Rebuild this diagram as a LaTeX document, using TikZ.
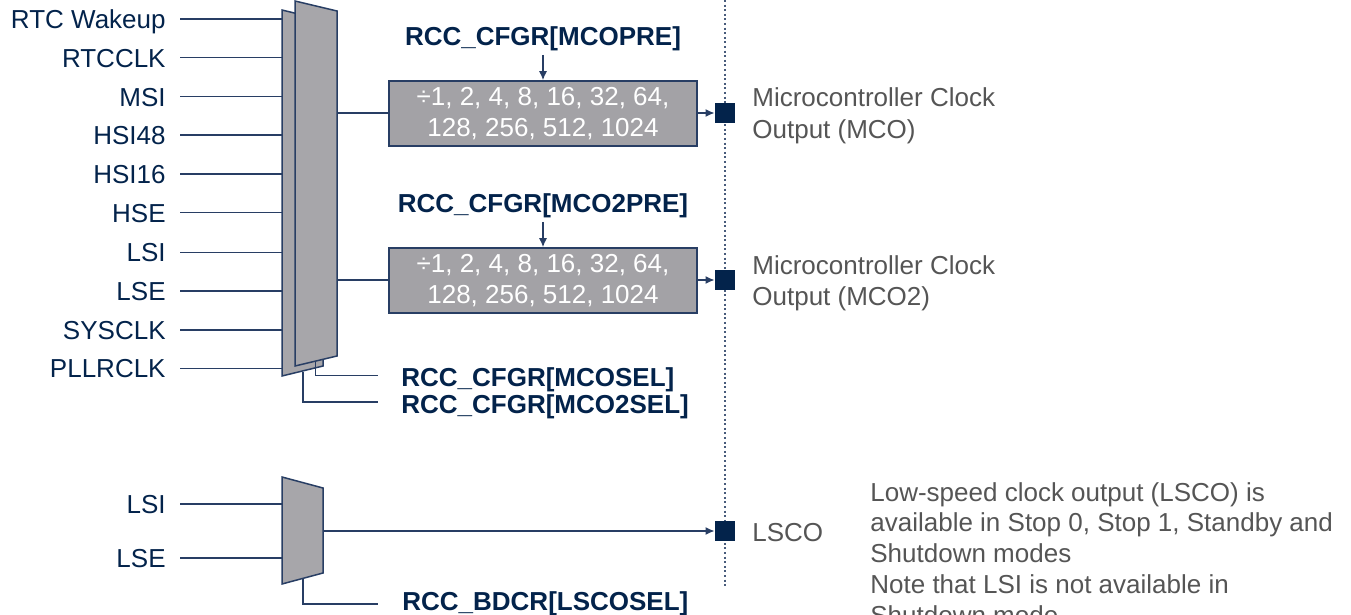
\documentclass[tikz,border=0pt]{standalone}
\usepackage{fontspec}
\setmainfont{Liberation Sans}
\usetikzlibrary{arrows.meta}
\definecolor{stnavy}{RGB}{3,35,75}
\definecolor{linec}{RGB}{40,62,100}
\definecolor{muxgray}{RGB}{167,166,170}
\definecolor{boxgray}{RGB}{163,162,166}
\definecolor{txtgray}{RGB}{85,85,85}
\tikzset{
  wire/.style={draw=linec, line width=0.75pt},
  arr/.style={wire, -{Latex[length=4.5pt,width=4pt]}},
  muxshape/.style={fill=muxgray, draw=linec, line width=0.75pt, line join=miter},
  inlabel/.style={anchor=base east, inner sep=0pt, text=stnavy, font=\fontsize{13pt}{15.5pt}\selectfont},
  reglabel/.style={inner sep=0pt, text=stnavy, font=\fontsize{13pt}{15.5pt}\selectfont\bfseries},
  outtext/.style={anchor=base west, inner sep=0pt, text=txtgray, font=\fontsize{13pt}{16pt}\selectfont},
  divbox/.style={fill=boxgray, draw=linec, line width=0.75pt, minimum width=154pt, minimum height=32.5pt, inner sep=0pt, text=white, align=center, font=\fontsize{13pt}{15.5pt}\selectfont},
  pin/.style={fill=stnavy, minimum size=10pt, inner sep=0pt},
}
\begin{document}
\begin{tikzpicture}[x=0.5pt,y=-0.5pt]
\useasboundingbox (0,0) rectangle (1351,615);
% dotted divider
\coordinate (dtop) at (725,0);
\coordinate (dbot) at (725,588);
\draw[linec!85, line width=0.6pt, dash pattern=on 1pt off 1.3pt] (dtop) -- (dbot);

% back mux
\draw[muxshape] (282,10) -- (323,20) -- (323,366) -- (282,376) -- cycle;
% front mux
\draw[muxshape] (295,1) -- (337,11) -- (337,356) -- (295,366) -- cycle;
\coordinate (mxout1) at (337,113);
\coordinate (mxout2) at (337,280);

% inputs
\foreach \name/\y [count=\i] in {RTC Wakeup/19, RTCCLK/57.7, MSI/96.7, HSI48/135, HSI16/174, HSE/212.7, LSI/252.3, LSE/291, SYSCLK/330, PLLRCLK/368.3}{
  \node[inlabel] (in\i) at (166,\y+9.5) {\name};
  \coordinate (ins\i) at (180,\y);
  \coordinate (ine\i) at (282,\y);
  \draw[wire] (ins\i) -- (ine\i);
}

% divider boxes
\node[divbox] (div1) at (543,113.5) {÷1, 2, 4, 8, 16, 32, 64,\\128, 256, 512, 1024};
\node[divbox] (div2) at (543,280.5) {÷1, 2, 4, 8, 16, 32, 64,\\128, 256, 512, 1024};
\draw[wire] (mxout1) -- (div1.west |- mxout1);
\draw[wire] (mxout2) -- (div2.west |- mxout2);

% register labels on top
\node[reglabel, anchor=base] (pre1) at (543,46) {RCC\_CFGR[MCOPRE]};
\node[reglabel, anchor=base] (pre2) at (543,213) {RCC\_CFGR[MCO2PRE]};
\coordinate (pre1a) at (543,55);
\coordinate (pre2a) at (543,222);
\draw[arr] (pre1a) -- (div1.north);
\draw[arr] (pre2a) -- (div2.north);

% output pins
\node[pin] (mco1) at (725,113) {};
\node[pin] (mco2) at (725,280) {};
\draw[arr] (div1.east |- mco1) -- (mco1.west);
\draw[arr] (div2.east |- mco2) -- (mco2.west);
\node[outtext] (t1a) at (752,107) {Microcontroller Clock};
\node[outtext] (t1b) at (752,139) {Output (MCO)};
\node[outtext] (t2a) at (752,274) {Microcontroller Clock};
\node[outtext] (t2b) at (752,306) {Output (MCO2)};

% select lines
\coordinate (s1a) at (315.5,361);
\coordinate (s1b) at (378,375.5);
\draw[wire] (s1a) |- (s1b);
\node[reglabel, anchor=base west] (sel1) at (401,386) {RCC\_CFGR[MCOSEL]};
\coordinate (s2a) at (303,372);
\coordinate (s2b) at (378,402);
\draw[wire] (s2a) |- (s2b);
\node[reglabel, anchor=base west] (sel2) at (401,413) {RCC\_CFGR[MCO2SEL]};

% LSCO mux
\draw[muxshape] (282,477) -- (323,488) -- (323,573) -- (282,584) -- cycle;
\node[inlabel] (lsi) at (166,513.5) {LSI};
\node[inlabel] (lse) at (166,567.5) {LSE};
\coordinate (lsis) at (180,504);
\coordinate (lsie) at (282,504);
\coordinate (lses) at (180,558);
\coordinate (lsee) at (282,558);
\draw[wire] (lsis) -- (lsie);
\draw[wire] (lses) -- (lsee);
\coordinate (lmxout) at (323,531);
\node[pin] (lsco) at (725,531) {};
\draw[arr] (lmxout) -- (lsco.west);
\node[outtext] (lscot) at (752,541) {LSCO};
\coordinate (s3a) at (303,579);
\coordinate (s3b) at (378,604);
\draw[wire] (s3a) |- (s3b);
\node[reglabel, anchor=base west] (sel3) at (402,610) {RCC\_BDCR[LSCOSEL]};

% note
\node[outtext] (n1) at (870,501) {Low-speed clock output (LSCO) is};
\node[outtext] (n2) at (870,531.75) {available in Stop 0, Stop 1, Standby and};
\node[outtext] (n3) at (870,562.5) {Shutdown modes};
\node[outtext] (n4) at (870,593.25) {Note that LSI is not available in};
\node[outtext] (n5) at (870,624) {Shutdown mode};
\end{tikzpicture}
\end{document}
